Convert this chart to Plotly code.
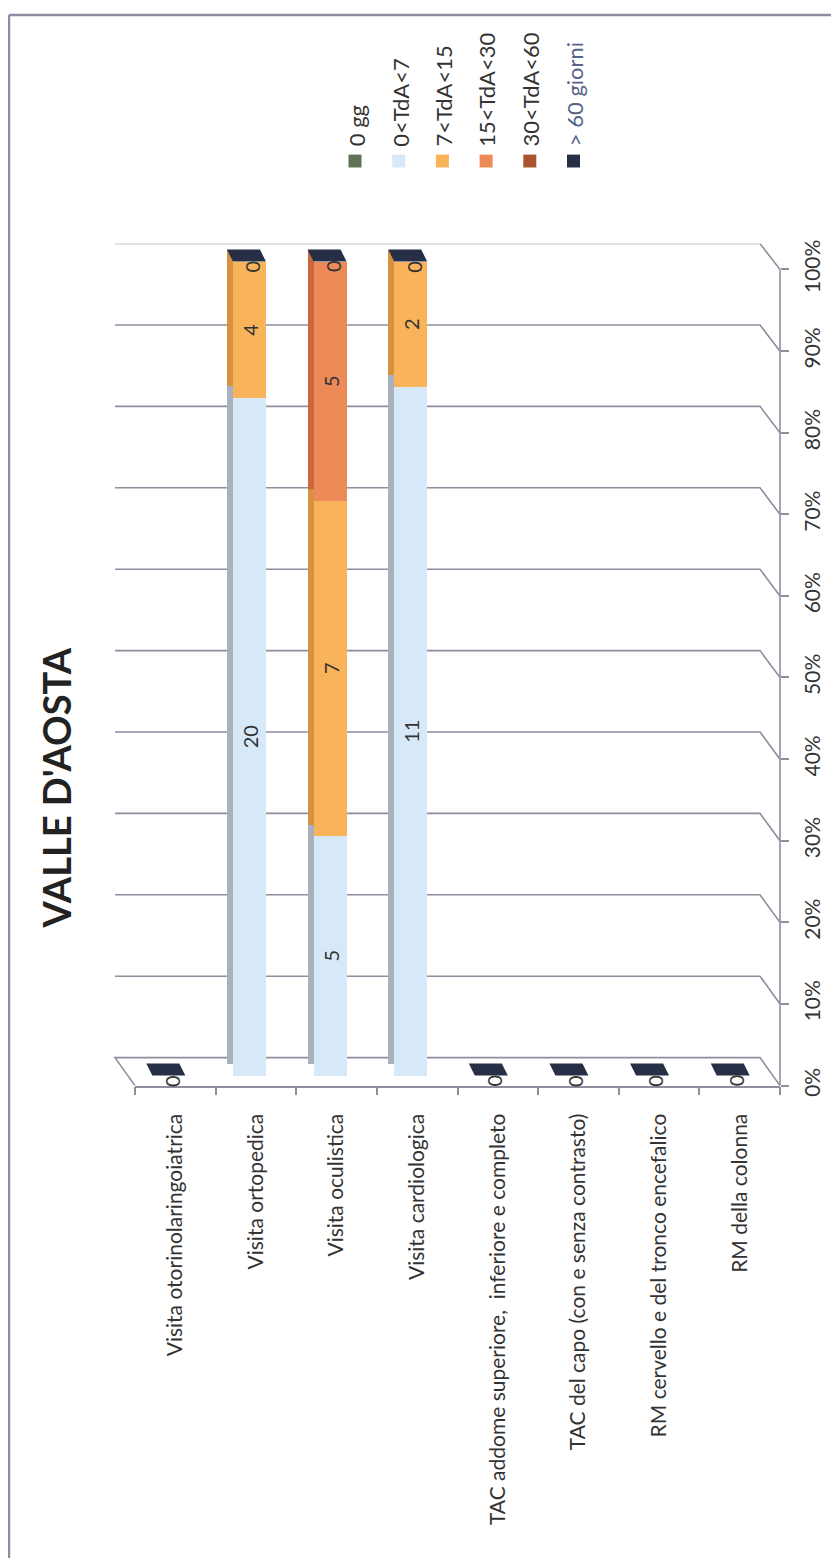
import plotly.graph_objects as go

# page size and the browser's default 8px body margin
PAGE_W, PAGE_H = 839, 1566
BODY = 8
W, H = PAGE_W - 2 * BODY, PAGE_H - 2 * BODY

# ---------------- data ----------------
categories = [
    "Visita otorinolaringoiatrica",
    "Visita ortopedica",
    "Visita oculistica",
    "Visita cardiologica",
    "TAC addome superiore,  inferiore e completo",
    "TAC del capo (con e senza contrasto)",
    "RM cervello e del tronco encefalico",
    "RM della colonna",
]
series_names = ["0 gg", "0<TdA<7", "7<TdA<15", "15<TdA<30", "30<TdA<60", "> 60 giorni"]
v_0gg = [0, 0, 0, 0, 0, 0, 0, 0]
v_0_7 = [0, 20, 5, 11, 0, 0, 0, 0]
v_7_15 = [0, 4, 7, 2, 0, 0, 0, 0]
v_15_30 = [0, 0, 5, 0, 0, 0, 0, 0]
v_30_60 = [0, 0, 0, 0, 0, 0, 0, 0]
v_60 = [0, 0, 0, 0, 0, 0, 0, 0]
pct_ticks = [0, 0.1, 0.2, 0.3, 0.4, 0.5, 0.6, 0.7, 0.8, 0.9, 1.0]
title_text = "VALLE D'AOSTA"

series_values = [v_0gg, v_0_7, v_7_15, v_15_30, v_30_60, v_60]

# ---------------- style ----------------
face_colors = ["#5f7257", "#d7e9f8", "#f9b35a", "#ec8a58", "#a9532f", "#262f45"]
side_colors = ["#4a5a44", "#a9b1bc", "#d8913e", "#c9683c", "#86401f", "#161c2c"]
legend_text_colors = ["#333333"] * 5 + ["#55648a"]
GRID = "#8f8d9e"
FONT = "Lato"


def px(x):
    """page pixel x -> paper fraction"""
    return (x - BODY) / W


def py(y):
    """page pixel y -> paper fraction"""
    return 1 - (y - BODY) / H


# geometry (page pixels)
X_LEFT, X_RIGHT = 135, 780          # front category axis
BACK_LEFT, BACK_RIGHT = 115, 760    # back wall
PLOT_TOP, PLOT_BOT = 242, 1092
BAR0, BAR100 = 1082, 260            # bar plane
FRONT0, FRONT100 = 1092, 268        # front (tick) plane
bscale = BAR0 - BAR100
fscale = FRONT0 - FRONT100
slot = (X_RIGHT - X_LEFT) / len(categories)
BAR_OFF = -23 / slot
BAR_W = 33 / slot
DX = -6 / slot      # depth shift in category units
DY = 12             # depth shift in pixels (upwards)

totals = [sum(s[i] for s in series_values) for i in range(len(categories))]
pcts = [[(s[i] / totals[i]) if totals[i] else 0 for i in range(len(categories))] for s in series_values]

fig = go.Figure()

# side faces (plane shifted back)
for k, name in enumerate(series_names):
    fig.add_trace(go.Bar(
        x=categories, y=pcts[k], yaxis="y2",
        offset=BAR_OFF + DX, width=-DX,
        marker=dict(color=side_colors[k], line=dict(width=0)),
        showlegend=False, hoverinfo="skip",
    ))

# front faces
for k, name in enumerate(series_names):
    fig.add_trace(go.Bar(
        x=categories, y=pcts[k], name=name,
        offset=BAR_OFF, width=BAR_W,
        marker=dict(color=face_colors[k], line=dict(width=0)),
        text=[str(v) if v else "" for v in series_values[k]],
        textposition="inside", insidetextanchor="middle", textangle=-90,
        constraintext="none",
        textfont=dict(family=FONT, size=20, color="#333333"),
        showlegend=False, hoverinfo="skip",
    ))

# dummy trace for the front tick axis
fig.add_trace(go.Scatter(x=[categories[0]], y=[None], yaxis="y3",
                         showlegend=False, hoverinfo="skip", mode="markers"))

shapes = []
# back-wall gridlines with perspective diagonals
for v in pct_ticks:
    if v == 0:
        path = f"M {px(X_LEFT):.5f},-10 L {px(BACK_LEFT):.5f},18 "
    else:
        path = f"M {px(BACK_LEFT):.5f},18 "
    path += f"L {px(BACK_RIGHT):.5f},18 L {px(X_RIGHT):.5f},{-10 + 2 * v:.2f}"
    shapes.append(dict(type="path", xref="paper", yref="y", ysizemode="pixel",
                       yanchor=v, path=path, layer="below",
                       line=dict(color=GRID, width=1.6)))

# right vertical axis line (front plane)
shapes.append(dict(type="line", xref="paper", yref="y3", x0=px(X_RIGHT), x1=px(X_RIGHT),
                   y0=0, y1=1, line=dict(color=GRID, width=1.6)))

# top caps of each stack (top face of the last series)
zero_labels = []
for i, c in enumerate(categories):
    top = 1.0 if totals[i] else 0.0
    x0 = i + BAR_OFF
    x1 = i + BAR_OFF + BAR_W
    path = (f"M {x0:.4f},0 L {x1:.4f},0 L {x1 + DX:.4f},{DY} L {x0 + DX:.4f},{DY} Z")
    shapes.append(dict(type="path", xref="x", yref="y", ysizemode="pixel", yanchor=top,
                       path=path, fillcolor=face_colors[-1], line=dict(width=0), layer="above"))
    cum = 0
    seen = set()
    for k in range(len(series_names)):
        if series_values[k][i] == 0 and cum == totals[i]:
            pos = round(cum / totals[i], 4) if totals[i] else 0.0
            if pos not in seen:
                seen.add(pos)
                zero_labels.append((i, pos))
        cum += series_values[k][i]

annotations = []
for i, pos in zero_labels:
    annotations.append(dict(x=i - 0.05, y=pos, xref="x", yref="y",
                            text="0", showarrow=False, textangle=-90, yshift=-5,
                            font=dict(family=FONT, size=20, color="#333333")))

# frame (top and left)
shapes.append(dict(type="line", xref="paper", yref="paper", x0=px(9), x1=1.2,
                   y0=py(11), y1=py(11), line=dict(color="#8e8ca0", width=2.5)))
shapes.append(dict(type="line", xref="paper", yref="paper", x0=px(9), x1=px(9),
                   y0=py(11), y1=-0.2, line=dict(color="#8e8ca0", width=2.5)))

# legend (rotated)
leg_x0, leg_step = 355, 43.7
for k, name in enumerate(series_names):
    cx = leg_x0 + k * leg_step
    shapes.append(dict(type="rect", xref="paper", yref="paper",
                       x0=px(cx - 6.5), x1=px(cx + 6.5), y0=py(165), y1=py(152),
                       fillcolor=face_colors[k], line=dict(width=0)))
    annotations.append(dict(x=px(cx + 1), y=py(146), xref="paper", yref="paper",
                            text=name, showarrow=False, textangle=-90,
                            xanchor="center", yanchor="bottom",
                            font=dict(family=FONT, size=22, color=legend_text_colors[k])))

# title
annotations.append(dict(x=px(56), y=py(792), xref="paper", yref="paper",
                        text=f"<b>{title_text}</b>", showarrow=False, textangle=-90,
                        xanchor="center", yanchor="middle",
                        font=dict(family=FONT, size=38, color="#222222")))

fig.update_layout(
    width=W, height=H, autosize=False,
    margin=dict(l=0, r=0, t=0, b=0),
    paper_bgcolor="white", plot_bgcolor="rgba(0,0,0,0)",
    barmode="stack", bargap=0,
    showlegend=False,
    font=dict(family=FONT, color="#333333"),
    xaxis=dict(type="category", categoryorder="array", categoryarray=categories,
               domain=[px(X_LEFT), px(X_RIGHT)], range=[-0.5, len(categories) - 0.5],
               showline=True, linecolor=GRID, linewidth=1.6,
               ticks="outside", ticklen=8, tickcolor=GRID, tickwidth=1.6,
               tickson="boundaries", tickangle=-90, showgrid=False, zeroline=False,
               ticklabelstandoff=18,
               tickfont=dict(family=FONT, size=21, color="#333333")),
    yaxis=dict(domain=[py(PLOT_BOT), py(PLOT_TOP)],
               range=[(BAR0 - PLOT_BOT) / bscale, (BAR0 - PLOT_TOP) / bscale],
               visible=False, showgrid=False, zeroline=False),
    yaxis2=dict(overlaying="y", anchor="x",
                range=[(BAR0 - DY - PLOT_BOT) / bscale, (BAR0 - DY - PLOT_TOP) / bscale],
                visible=False, showgrid=False, zeroline=False),
    yaxis3=dict(overlaying="y", anchor="x", side="right",
                range=[(FRONT0 - PLOT_BOT) / fscale, (FRONT0 - PLOT_TOP) / fscale],
                tickvals=pct_ticks, tickformat=".0%", tickangle=-90,
                ticks="outside", ticklen=8, tickcolor=GRID, tickwidth=1.6,
                ticklabelstandoff=6,
                showline=False, showgrid=False, zeroline=False,
                tickfont=dict(family=FONT, size=21, color="#333333")),
    shapes=shapes, annotations=annotations,
)

fig.write_html("out.html")
